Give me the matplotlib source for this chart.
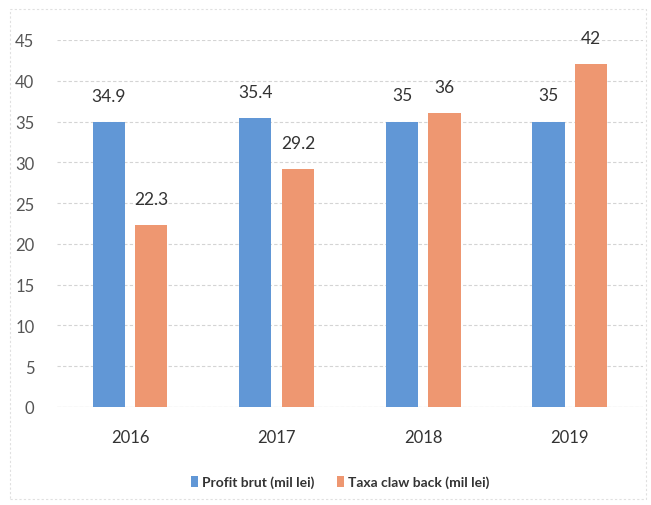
import matplotlib
matplotlib.use("Agg")
import matplotlib.pyplot as plt
import numpy as np
from matplotlib.patches import Rectangle

years = ["2016", "2017", "2018", "2019"]
profit = [34.9, 35.4, 35, 35]
taxa = [22.3, 29.2, 36, 42]
profit_labels = ["34.9", "35.4", "35", "35"]
taxa_labels = ["22.3", "29.2", "36", "42"]
series_names = ["Profit brut (mil lei)", "Taxa claw back (mil lei)"]
yticks = [0, 5, 10, 15, 20, 25, 30, 35, 40, 45]

plt.rcParams['font.family'] = ['Lato', 'DejaVu Sans']

blue = "#6197D6"
orange = "#EE9771"

fig = plt.figure(figsize=(6.51, 5.06), dpi=100)
ax = fig.add_axes([0.087, 0.194, 0.901, 0.725])

x = np.arange(len(years))
w = 0.22
off = 0.145
b1 = ax.bar(x - off, profit, w, color=blue, label=series_names[0], zorder=3)
b2 = ax.bar(x + off, taxa, w, color=orange, label=series_names[1], zorder=3)

for rect, lab in zip(b1, profit_labels):
    ax.annotate(lab, (rect.get_x() + rect.get_width() / 2, rect.get_height()),
                xytext=(0, 13), textcoords="offset points", ha="center", va="bottom",
                fontsize=12.5, color="#333333")
for rect, lab in zip(b2, taxa_labels):
    ax.annotate(lab, (rect.get_x() + rect.get_width() / 2, rect.get_height()),
                xytext=(0, 13), textcoords="offset points", ha="center", va="bottom",
                fontsize=12.5, color="#333333")

ax.set_xlim(-0.5, len(years) - 0.5)
ax.set_ylim(0, 45)
ax.set_yticks(yticks)
ax.set_yticklabels([str(t) for t in yticks], fontsize=12, color="#555555")
ax.set_xticks(x)
ax.set_xticklabels(years, fontsize=12, color="#333333")
ax.tick_params(axis="y", length=0, pad=16)
ax.tick_params(axis="x", length=0, pad=16)
ax.grid(axis="y", color="#d4d4d4", linestyle=(0, (3, 2)), linewidth=0.8, zorder=0)
for s in ax.spines.values():
    s.set_visible(False)
ax.axhline(0, color="#d0d0d0", linewidth=0.8, zorder=2)

leg = fig.legend(handles=[b1, b2], labels=series_names, loc="center",
                 bbox_to_anchor=(340 / 651, 1 - 483 / 506), ncol=2, frameon=False,
                 fontsize=10, handlelength=0.5, handleheight=0.8,
                 handletextpad=0.3, columnspacing=1.6)
for t in leg.get_texts():
    t.set_color("#333333")
    t.set_fontweight("bold")

fig.patches.append(Rectangle((10 / 651, 6 / 506), 636 / 651, 490 / 506,
                             transform=fig.transFigure, fill=False,
                             edgecolor="#e0e0e0", linewidth=0.8, linestyle=(0, (2, 2))))

fig.savefig("out.png", dpi=100)
